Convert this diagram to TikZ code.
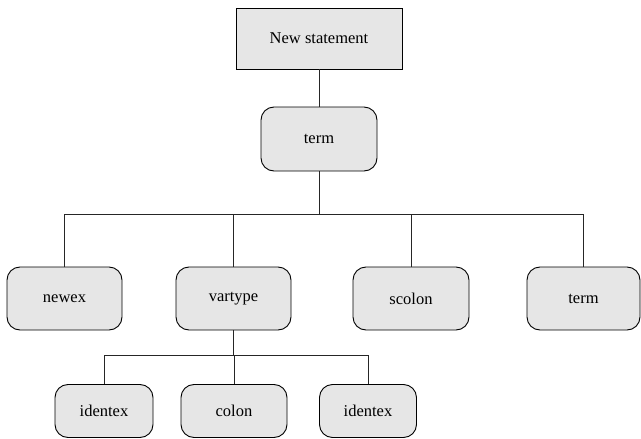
\documentclass[tikz,border=0pt]{standalone}
\usepackage{fontspec}
\setmainfont{Liberation Serif}
\newfontfamily\labelfont{Liberation Serif}
\definecolor{boxfill}{HTML}{E6E6E6}
\begin{document}
\begin{tikzpicture}[x=1pt,y=-1pt,
  every node/.style={font=\labelfont\fontsize{16.5}{19}\selectfont},
  base/.style={draw=black, fill=boxfill, line width=0.9pt, inner sep=0pt},
  plainbox/.style={base},
  roundbox/.style={base, rounded corners=13pt},
  link/.style={draw=black!85, line width=0.9pt}]
\useasboundingbox (0,0) rectangle (641,439);

% root and its single child
\node[plainbox, minimum width=166pt, minimum height=61pt] (root) at (319,38.5) {New statement};
\node[roundbox, minimum width=116pt, minimum height=64pt] (term) at (319,139) {term};

% second level
\node[roundbox, minimum width=115pt, minimum height=63pt] (newex)   at (64.5,298.5) {newex};
\node[roundbox, minimum width=115pt, minimum height=63pt] (vartype) at (233.5,298.5) {vartype};
\node[roundbox, minimum width=116pt, minimum height=63pt] (scolon)  at (411,298.5) {scolon};
\node[roundbox, minimum width=113pt, minimum height=63pt] (term2)   at (583.5,298.5) {term};

% third level
\node[roundbox, minimum width=98pt,  minimum height=53pt] (id1)   at (104,411) {identex};
\node[roundbox, minimum width=106pt, minimum height=53pt] (colon) at (234,411) {colon};
\node[roundbox, minimum width=97pt,  minimum height=53pt] (id2)   at (368,411) {identex};

% connectors
\draw[link] (root.south) -- (term.north);
\draw[link] (term.south) -- ++(0,43) coordinate (bus1);
\draw[link] (bus1) -| (newex.north);
\draw[link] (bus1) -| (vartype.north);
\draw[link] (bus1) -| (scolon.north);
\draw[link] (bus1) -| (term2.north);

\draw[link] (vartype.south) -- ++(0,25) coordinate (bus2);
\draw[link] (bus2) -| (id1.north);
\draw[link] (bus2) -| (colon.north);
\draw[link] (bus2) -| (id2.north);
\end{tikzpicture}
\end{document}
